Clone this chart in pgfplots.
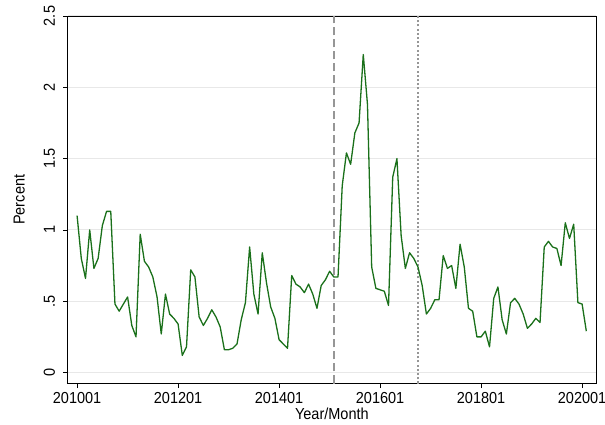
\documentclass[border=0pt]{standalone}
\usepackage{fontspec}
\setmainfont[FakeStretch=0.91]{Liberation Sans}
\usepackage{pgfplots}
\pgfplotsset{compat=1.18}
\definecolor{sgreen}{RGB}{26,112,26}
\definecolor{refgray}{RGB}{150,150,150}
\definecolor{gridgray}{RGB}{232,232,232}
\pgfplotstableread{
i v
0 1.10
1 0.80
2 0.66
3 1.00
4 0.73
5 0.80
6 1.03
7 1.13
8 1.13
9 0.48
10 0.43
11 0.48
12 0.53
13 0.33
14 0.25
15 0.97
16 0.78
17 0.74
18 0.67
19 0.53
20 0.27
21 0.55
22 0.41
23 0.38
24 0.34
25 0.12
26 0.18
27 0.72
28 0.67
29 0.39
30 0.33
31 0.38
32 0.44
33 0.39
34 0.32
35 0.16
36 0.16
37 0.17
38 0.20
39 0.37
40 0.49
41 0.88
42 0.55
43 0.41
44 0.84
45 0.63
46 0.46
47 0.38
48 0.23
49 0.20
50 0.17
51 0.68
52 0.62
53 0.60
54 0.56
55 0.62
56 0.55
57 0.45
58 0.61
59 0.65
60 0.71
61 0.67
62 0.67
63 1.31
64 1.54
65 1.46
66 1.68
67 1.75
68 2.23
69 1.88
70 0.74
71 0.59
72 0.58
73 0.57
74 0.47
75 1.37
76 1.50
77 0.96
78 0.73
79 0.84
80 0.80
81 0.74
82 0.61
83 0.41
84 0.45
85 0.51
86 0.51
87 0.82
88 0.73
89 0.75
90 0.59
91 0.90
92 0.74
93 0.45
94 0.43
95 0.25
96 0.25
97 0.29
98 0.18
99 0.52
100 0.60
101 0.37
102 0.27
103 0.49
104 0.52
105 0.48
106 0.41
107 0.31
108 0.34
109 0.38
110 0.35
111 0.88
112 0.92
113 0.88
114 0.87
115 0.75
116 1.05
117 0.94
118 1.04
119 0.49
120 0.48
121 0.29
}\datatable
\begin{document}
\begin{tikzpicture}[font=\fontsize{16}{18}\selectfont]
\begin{axis}[name=ax,
  scale only axis, width=528.3bp, height=367.5bp,
  xmin=-2.23, xmax=123.3, ymin=-0.077, ymax=2.5,
  xtick={0,24,48,72,96,120},
  xticklabels={201001,201201,201401,201601,201801,202001},
  ytick={0,0.5,1,1.5,2,2.5},
  yticklabels={0,.5,1,1.5,2,2.5},
  tick align=outside, tick pos=left,
  major tick length=4.5bp,
  every tick/.style={black, line width=0.6bp},
  axis line style={black, line width=0.8bp},
  ymajorgrids, grid style={gridgray, line width=1bp},
  xticklabel style={anchor=north, inner sep=0pt},
  xticklabel shift=4bp,
  yticklabel style={rotate=90, anchor=south, inner sep=0pt},
  yticklabel shift=8bp,
  xlabel={Year/Month}, ylabel={Percent},
  every axis x label/.style={at={(axis description cs:0.5,0)}, anchor=north, inner sep=0pt, yshift=-24bp},
  every axis y label/.style={at={(axis description cs:-0.0808,0.5)}, rotate=90, anchor=south, inner sep=0pt},
  /pgf/number format/assume math mode=true,
  clip=true,
]
\addplot[refgray, line width=1.5bp, dash pattern=on 8bp off 4bp] coordinates {(61,-0.077) (61,2.5)};
\addplot[refgray, line width=1.5bp, dash pattern=on 2bp off 2.2bp] coordinates {(81,-0.077) (81,2.5)};
\addplot[sgreen, line width=1.3bp, line join=round] table[x=i, y=v] {\datatable};
\end{axis}
\pgfresetboundingbox
\useasboundingbox ([xshift=-67.7bp,yshift=-41.5bp]ax.south west) rectangle ([xshift=9bp,yshift=16bp]ax.north east);
\end{tikzpicture}
\end{document}
